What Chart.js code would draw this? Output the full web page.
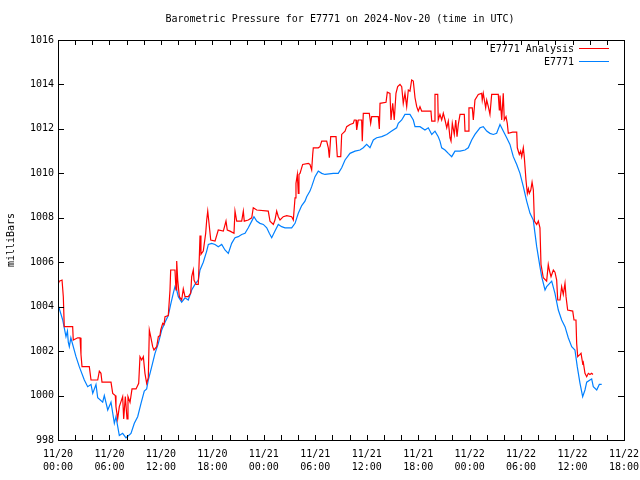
<!DOCTYPE html>
<html>
<head>
<meta charset="utf-8">
<script src="https://cdn.jsdelivr.net/npm/chart.js@4/dist/chart.umd.min.js"></script>
<style>
  html, body { margin: 0; padding: 0; background: #fff; }
  #wrap { width: 640px; height: 480px; }
</style>
</head>
<body>
<div id="wrap"><canvas id="pressureChart" width="640" height="480"></canvas></div>
<script>
// Time axis: hours since 2024-11-20 00:00 UTC
const xTicks = [0, 6, 12, 18, 24, 30, 36, 42, 48, 54, 60, 66];
const yTicks = [998, 1000, 1002, 1004, 1006, 1008, 1010, 1012, 1014, 1016];

// E7771 Analysis (red)
const analysisHours = [0.0, 0.15, 0.47, 0.62, 0.73, 1.71, 1.78, 2.30, 2.57, 2.68, 2.80, 3.65, 3.85, 4.63, 4.82, 5.01, 5.13, 6.18, 6.38, 6.68, 6.76, 6.96, 7.15, 7.54, 7.66, 7.85, 8.05, 8.16, 8.40, 8.63, 9.10, 9.41, 9.56, 9.76, 9.95, 10.14, 10.34, 10.53, 10.65, 10.81, 11.04, 11.19, 11.51, 11.70, 11.89, 11.98, 12.21, 12.36, 12.48, 12.86, 13.06, 13.14, 13.64, 13.76, 13.84, 13.96, 14.15, 14.42, 14.61, 14.81, 15.19, 15.47, 15.59, 15.78, 15.86, 16.09, 16.36, 16.48, 16.56, 16.67, 16.94, 17.22, 17.34, 17.46, 17.57, 17.81, 18.31, 18.69, 19.28, 19.59, 19.74, 20.06, 20.52, 20.64, 20.84, 21.42, 21.61, 21.72, 22.19, 22.59, 22.77, 23.17, 24.52, 24.72, 25.11, 25.30, 25.50, 25.69, 25.89, 26.27, 26.67, 27.25, 27.44, 27.64, 27.75, 27.91, 28.02, 28.10, 28.22, 28.53, 29.19, 29.38, 29.58, 29.70, 29.77, 30.35, 30.55, 30.75, 31.33, 31.52, 31.64, 31.80, 32.42, 32.57, 32.97, 33.08, 33.47, 33.66, 34.05, 34.43, 34.55, 34.75, 34.83, 35.02, 35.41, 35.48, 35.60, 36.30, 36.46, 36.58, 37.35, 37.47, 37.55, 38.25, 38.40, 38.71, 38.83, 39.03, 39.21, 39.41, 39.61, 39.88, 40.08, 40.26, 40.46, 40.66, 40.85, 41.04, 41.24, 41.43, 41.63, 41.83, 42.01, 42.21, 42.41, 43.49, 43.58, 43.88, 43.96, 44.28, 44.34, 44.54, 44.74, 44.93, 45.13, 45.33, 45.51, 45.71, 45.83, 45.98, 46.21, 46.38, 46.53, 46.68, 46.88, 47.38, 47.46, 47.84, 47.92, 48.31, 48.43, 48.62, 49.01, 49.40, 49.47, 49.59, 49.87, 49.99, 50.18, 50.37, 50.57, 51.34, 51.46, 51.54, 51.74, 51.92, 52.04, 52.24, 52.39, 52.51, 53.02, 53.49, 53.56, 53.79, 53.95, 54.07, 54.26, 54.37, 54.57, 54.73, 54.85, 54.96, 55.13, 55.28, 55.43, 55.55, 55.82, 56.01, 56.20, 56.32, 56.59, 56.98, 57.17, 57.29, 57.49, 57.76, 57.95, 58.15, 58.27, 58.54, 58.73, 58.92, 59.12, 59.24, 59.43, 60.02, 60.17, 60.40, 60.48, 60.60, 60.87, 60.99, 61.18, 61.25, 61.45, 61.65, 61.84, 62.03, 62.23, 62.38];
const analysisMb = [1005.0, 1005.15, 1005.2, 1004.45, 1003.1, 1003.1, 1002.5, 1002.6, 1002.6, 1001.85, 1001.3, 1001.3, 1000.7, 1000.7, 1001.1, 1001.0, 1000.6, 1000.6, 1000.1, 1000.0, 999.5, 998.95, 999.5, 999.95, 998.95, 999.95, 998.95, 999.95, 999.7, 1000.3, 1000.3, 1000.55, 1001.75, 1001.6, 1001.75, 1001.0, 1000.55, 1000.8, 1002.95, 1002.65, 1002.2, 1002.05, 1002.2, 1002.65, 1002.7, 1002.95, 1003.25, 1003.2, 1003.55, 1003.6, 1004.75, 1005.65, 1005.65, 1004.75, 1006.05, 1005.2, 1004.45, 1004.3, 1004.8, 1004.45, 1004.45, 1004.6, 1005.35, 1005.65, 1005.2, 1005.0, 1005.0, 1006.25, 1007.2, 1006.35, 1006.5, 1007.3, 1007.9, 1008.3, 1007.9, 1007.0, 1006.95, 1007.45, 1007.4, 1007.85, 1007.45, 1007.4, 1007.3, 1008.3, 1007.85, 1007.85, 1008.3, 1007.85, 1007.9, 1008.0, 1008.45, 1008.35, 1008.3, 1007.85, 1007.7, 1007.9, 1008.3, 1008.05, 1007.9, 1008.05, 1008.1, 1008.05, 1007.9, 1008.9, 1009.55, 1009.95, 1009.1, 1009.95, 1010.0, 1010.4, 1010.45, 1010.4, 1010.15, 1010.85, 1011.15, 1011.15, 1011.2, 1011.45, 1011.45, 1011.15, 1010.7, 1011.65, 1011.65, 1010.75, 1010.75, 1011.75, 1011.9, 1012.1, 1012.2, 1012.25, 1012.4, 1012.4, 1011.95, 1012.4, 1012.4, 1011.45, 1012.7, 1012.7, 1012.25, 1012.55, 1012.55, 1012.0, 1013.15, 1013.2, 1013.65, 1013.6, 1012.4, 1013.15, 1012.4, 1013.6, 1013.9, 1014.0, 1013.9, 1013.15, 1013.6, 1013.0, 1013.75, 1013.7, 1014.2, 1014.15, 1013.4, 1013.0, 1012.8, 1013.0, 1012.8, 1012.8, 1012.35, 1012.35, 1013.55, 1013.55, 1012.4, 1012.65, 1012.4, 1012.7, 1012.4, 1012.05, 1012.35, 1011.6, 1011.45, 1012.25, 1011.75, 1012.4, 1011.65, 1012.2, 1012.65, 1012.65, 1011.9, 1011.9, 1012.95, 1012.95, 1012.4, 1013.3, 1013.55, 1013.6, 1013.3, 1013.6, 1012.95, 1013.3, 1013.0, 1012.65, 1013.55, 1013.55, 1012.85, 1013.5, 1012.4, 1013.6, 1012.4, 1012.55, 1012.25, 1011.8, 1011.85, 1011.85, 1011.15, 1010.85, 1011.0, 1010.75, 1011.15, 1010.75, 1009.7, 1009.1, 1009.3, 1009.1, 1009.25, 1009.6, 1009.25, 1007.85, 1007.7, 1007.85, 1007.55, 1005.9, 1005.3, 1005.15, 1005.9, 1005.65, 1005.35, 1005.65, 1005.55, 1005.2, 1004.3, 1004.3, 1004.9, 1004.55, 1005.05, 1004.45, 1003.85, 1003.8, 1003.4, 1003.4, 1002.35, 1001.75, 1001.85, 1001.9, 1001.45, 1001.5, 1001.0, 1000.85, 1001.0, 1000.95, 1001.0, 1000.95];

// E7771 observed (blue)
const stationHours = [0.08, 0.55, 0.93, 1.10, 1.20, 1.32, 1.50, 2.10, 2.48, 3.07, 3.46, 3.85, 4.05, 4.43, 4.63, 5.21, 5.40, 5.80, 6.18, 6.57, 6.76, 7.15, 7.54, 7.93, 8.51, 8.90, 9.29, 9.68, 10.06, 10.34, 10.53, 10.93, 11.31, 11.70, 12.09, 12.48, 12.86, 13.14, 13.44, 13.64, 13.84, 14.03, 14.42, 14.81, 15.19, 15.59, 15.97, 16.36, 16.56, 16.94, 17.34, 17.53, 17.92, 18.31, 18.69, 19.09, 19.47, 19.86, 20.25, 20.64, 21.02, 21.42, 21.81, 22.19, 22.59, 22.85, 23.17, 23.55, 23.94, 24.34, 24.64, 24.92, 25.30, 25.69, 26.08, 26.47, 27.25, 27.64, 28.02, 28.42, 28.80, 29.00, 29.38, 29.58, 29.97, 30.35, 30.75, 31.13, 32.10, 32.68, 33.08, 33.47, 34.05, 34.63, 35.21, 35.60, 35.99, 36.38, 36.77, 37.16, 37.75, 38.33, 38.91, 39.49, 39.68, 40.08, 40.46, 41.04, 41.43, 41.63, 42.21, 42.79, 43.18, 43.58, 43.96, 44.34, 44.54, 44.74, 45.13, 45.51, 45.91, 46.29, 46.88, 47.46, 47.84, 48.24, 48.62, 49.21, 49.59, 49.99, 50.37, 50.76, 51.15, 51.54, 51.92, 52.32, 52.70, 53.09, 53.49, 53.87, 54.26, 54.65, 55.04, 55.42, 55.62, 55.82, 56.20, 56.40, 56.79, 56.98, 57.57, 57.95, 58.34, 58.73, 59.12, 59.50, 59.90, 60.28, 60.55, 60.87, 61.18, 61.45, 61.65, 62.03, 62.23, 62.42, 62.82, 63.12, 63.40];
const stationMb = [1004.0, 1003.4, 1002.65, 1002.9, 1002.4, 1002.2, 1002.6, 1001.75, 1001.3, 1000.7, 1000.4, 1000.5, 1000.1, 1000.5, 999.9, 999.7, 1000.0, 999.35, 999.7, 998.75, 999.05, 998.2, 998.3, 998.1, 998.3, 998.75, 999.05, 999.65, 1000.2, 1000.3, 1000.7, 1001.3, 1001.9, 1002.35, 1002.95, 1003.3, 1003.6, 1004.1, 1004.6, 1004.9, 1004.75, 1004.45, 1004.2, 1004.4, 1004.3, 1004.75, 1005.0, 1005.2, 1005.65, 1006.0, 1006.5, 1006.8, 1006.85, 1006.8, 1006.7, 1006.8, 1006.55, 1006.4, 1006.85, 1007.1, 1007.15, 1007.25, 1007.3, 1007.55, 1007.85, 1008.05, 1007.85, 1007.75, 1007.7, 1007.55, 1007.3, 1007.1, 1007.4, 1007.7, 1007.6, 1007.55, 1007.55, 1007.75, 1008.2, 1008.55, 1008.75, 1008.95, 1009.2, 1009.4, 1009.85, 1010.1, 1010.0, 1009.95, 1010.0, 1010.0, 1010.25, 1010.6, 1010.9, 1011.0, 1011.05, 1011.15, 1011.3, 1011.15, 1011.5, 1011.6, 1011.65, 1011.75, 1011.9, 1012.05, 1012.25, 1012.4, 1012.65, 1012.65, 1012.4, 1012.1, 1012.1, 1011.95, 1012.05, 1011.75, 1011.9, 1011.65, 1011.45, 1011.15, 1011.05, 1010.9, 1010.75, 1011.0, 1011.0, 1011.05, 1011.15, 1011.5, 1011.75, 1012.05, 1012.1, 1011.9, 1011.8, 1011.75, 1011.8, 1012.2, 1011.9, 1011.6, 1011.3, 1010.75, 1010.4, 1010.0, 1009.4, 1008.75, 1008.2, 1007.9, 1007.3, 1006.7, 1005.8, 1005.35, 1004.75, 1004.9, 1005.15, 1004.6, 1003.85, 1003.4, 1003.1, 1002.6, 1002.2, 1002.05, 1001.3, 1000.55, 999.95, 1000.25, 1000.6, 1000.7, 1000.75, 1000.4, 1000.25, 1000.5, 1000.5];

const FONT = 'DejaVu Sans Mono';

function pad2(n) { return (n < 10 ? '0' : '') + n; }

// frame, inside tics, title, y label and gnuplot-style key
const gnuplotDecor = {
    id: 'gnuplotDecor',
    afterDraw(chart) {
        const { ctx, chartArea: a, scales } = chart;
        ctx.save();
        ctx.strokeStyle = '#000';
        ctx.lineWidth = 1;
        ctx.strokeRect(a.left + 0.5, a.top + 0.5, a.right - a.left, a.bottom - a.top);
        ctx.beginPath();
        yTicks.forEach(v => {
            const y = Math.round(scales.y.getPixelForValue(v)) + 0.5;
            ctx.moveTo(a.left, y); ctx.lineTo(a.left + 6, y);
            ctx.moveTo(a.right, y); ctx.lineTo(a.right - 6, y);
        });
        for (let h = 0; h <= 66; h += 2) {
            const x = Math.round(scales.x.getPixelForValue(h)) + 0.5;
            ctx.moveTo(x, a.bottom); ctx.lineTo(x, a.bottom - 5);
            ctx.moveTo(x, a.top); ctx.lineTo(x, a.top + 5);
        }
        ctx.stroke();

        ctx.fillStyle = '#000';
        ctx.font = '10px "' + FONT + '"';
        ctx.textAlign = 'center';
        ctx.textBaseline = 'middle';
        ctx.fillText('Barometric Pressure for E7771 on 2024-Nov-20 (time in UTC)', 340, 19);

        ctx.save();
        ctx.translate(11, 240);
        ctx.rotate(-Math.PI / 2);
        ctx.fillText('milliBars', 0, 0);
        ctx.restore();

        // key
        ctx.textAlign = 'right';
        chart.data.datasets.forEach((ds, i) => {
            const y = 49 + i * 13;
            ctx.fillStyle = '#000';
            ctx.fillText(ds.label, 574, y);
            ctx.strokeStyle = ds.borderColor;
            ctx.beginPath();
            ctx.moveTo(579, y - 0.5);
            ctx.lineTo(609, y - 0.5);
            ctx.stroke();
        });
        ctx.restore();
    }
};

new Chart(document.getElementById('pressureChart'), {
    type: 'line',
    data: {
        datasets: [{
            label: 'E7771 Analysis',
            data: analysisHours.map((h, i) => ({ x: h, y: analysisMb[i] })),
            borderColor: '#ff0000',
            borderWidth: 1.2,
            pointRadius: 0,
            tension: 0
        }, {
            label: 'E7771',
            data: stationHours.map((h, i) => ({ x: h, y: stationMb[i] })),
            borderColor: '#0080ff',
            borderWidth: 1.2,
            pointRadius: 0,
            tension: 0
        }]
    },
    options: {
        responsive: false,
        animation: false,
        layout: { padding: { top: 40, right: 16, left: 0, bottom: 0 } },
        plugins: {
            legend: { display: false },
            tooltip: { enabled: false }
        },
        scales: {
            x: {
                type: 'linear',
                min: 0,
                max: 66,
                afterFit(scale) {
                    scale.height = 40;
                    scale.paddingLeft = 0;
                    scale.paddingRight = 0;
                },
                afterBuildTicks(scale) { scale.ticks = xTicks.map(v => ({ value: v })); },
                grid: { display: false, drawTicks: false },
                border: { display: false },
                ticks: {
                    autoSkip: false,
                    maxRotation: 0,
                    padding: 8,
                    color: '#000',
                    font: { family: FONT, size: 10, lineHeight: 1.3 },
                    callback(v) {
                        const day = 20 + Math.floor(v / 24);
                        return ['11/' + day, pad2(v % 24) + ':00'];
                    }
                }
            },
            y: {
                min: 998,
                max: 1016,
                afterFit(scale) { scale.width = 58; },
                afterBuildTicks(scale) { scale.ticks = yTicks.map(v => ({ value: v })); },
                grid: { display: false, drawTicks: false },
                border: { display: false },
                ticks: {
                    padding: 4,
                    color: '#000',
                    font: { family: FONT, size: 10 },
                    callback(v) { return String(v); }
                }
            }
        }
    },
    plugins: [gnuplotDecor]
});
</script>
</body>
</html>
